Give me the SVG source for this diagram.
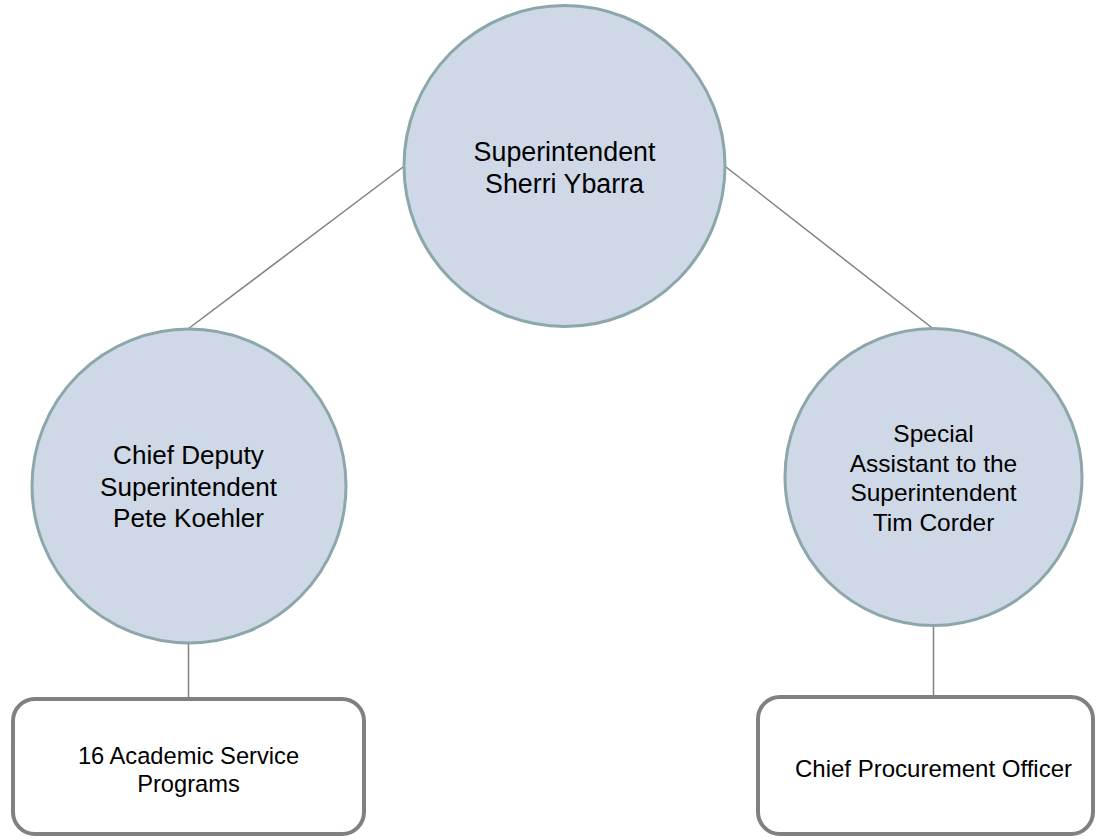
<svg xmlns="http://www.w3.org/2000/svg" width="1096" height="839" viewBox="0 0 1096 839">
  <style>
    .circ { fill: #CFD8E6; stroke: #8CA7AA; stroke-width: 3; }
    .box { fill: #FFFFFF; stroke: #808080; stroke-width: 4; }
    .conn { stroke: #808080; stroke-width: 1.5; fill: none; }
    text { font-family: "Liberation Sans", Arial, sans-serif; fill: #000000; text-anchor: middle; }
  </style>
  <rect x="0" y="0" width="1096" height="839" fill="#FFFFFF"/>
  <g id="connectors">
    <line class="conn" x1="403" y1="167" x2="188" y2="329"/>
    <line class="conn" x1="726" y1="167" x2="933.5" y2="329"/>
    <line class="conn" x1="188.5" y1="643" x2="188.5" y2="697"/>
    <line class="conn" x1="933.5" y1="625" x2="933.5" y2="695"/>
  </g>
  <g id="node-superintendent">
    <circle class="circ" cx="564.5" cy="166" r="160.5"/>
    <text font-size="26.8" x="564.5" y="161">Superintendent</text>
    <text font-size="26.8" x="564.5" y="193">Sherri Ybarra</text>
  </g>
  <g id="node-chief-deputy">
    <circle class="circ" cx="189" cy="486" r="157"/>
    <text font-size="26.1" x="188.5" y="464">Chief Deputy</text>
    <text font-size="26.1" x="188.5" y="495.5">Superintendent</text>
    <text font-size="26.1" x="188.5" y="527">Pete Koehler</text>
  </g>
  <g id="node-special-assistant">
    <circle class="circ" cx="933.5" cy="477" r="148.5"/>
    <text font-size="24.5" x="933.5" y="442">Special</text>
    <text font-size="24.5" x="933.5" y="471.5">Assistant to the</text>
    <text font-size="24.5" x="933.5" y="501">Superintendent</text>
    <text font-size="24.5" x="933.5" y="530.5">Tim Corder</text>
  </g>
  <g id="node-academic-programs">
    <rect class="box" x="13" y="699" width="351" height="135" rx="22" ry="22"/>
    <text font-size="23.7" x="188.5" y="764">16 Academic Service</text>
    <text font-size="23.7" x="188.5" y="792">Programs</text>
  </g>
  <g id="node-procurement">
    <rect class="box" x="758" y="697" width="335" height="137" rx="22" ry="22"/>
    <text font-size="24" x="933.5" y="777">Chief Procurement Officer</text>
  </g>
</svg>
